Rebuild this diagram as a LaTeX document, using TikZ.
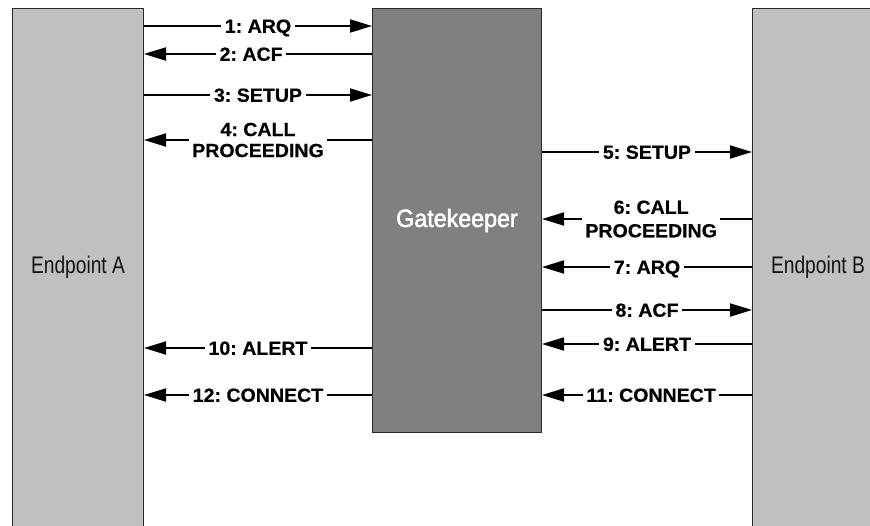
\documentclass[tikz,border=0pt]{standalone}
\usepackage{fontspec}
\setmainfont{Liberation Sans}
\newfontfamily\msgfont{Liberation Sans}[FakeStretch=1.03,FakeBold=0.5]
\newfontfamily\epfont{Liberation Sans}[FakeStretch=0.8]
\newfontfamily\gkfont{Liberation Sans}[FakeStretch=0.93,FakeBold=2]
\usetikzlibrary{arrows.meta}
\definecolor{epgray}{HTML}{C0C0C0}
\definecolor{gkgray}{HTML}{808080}
\definecolor{boxline}{HTML}{2A2A2A}
\frenchspacing
\begin{document}
\begin{tikzpicture}[x=1pt,y=-1pt,
  endpoint/.style={draw=boxline, fill=epgray, line width=1pt,
    minimum width=131pt, minimum height=518pt, anchor=north west,
    inner sep=0pt, text=black!92,
    font=\epfont\fontsize{24}{28}\selectfont},
  keeper/.style={draw=boxline, fill=gkgray, line width=1pt,
    minimum width=169pt, minimum height=424pt, anchor=north west,
    inner sep=0pt, text=white,
    font=\gkfont\fontsize{25}{30}\selectfont},
  msg/.style={line width=1.8pt, -{Triangle[length=22pt,width=13pt]}},
  lbl/.style={fill=white, inner xsep=3.5pt, inner ysep=0pt,
    text height=13.5pt, text depth=0pt,
    font=\msgfont\bfseries\fontsize{19}{21}\selectfont},
  lbltwo/.style={fill=white, inner xsep=3.5pt, inner ysep=1pt, align=center,
    font=\msgfont\bfseries\fontsize{19}{#1}\selectfont},
]
\useasboundingbox (0,0) rectangle (870,525);

% the three parties
\node[endpoint] (A) at (12,8) {Endpoint A};
\node[keeper]   (G) at (372,8) {Gatekeeper};
\node[endpoint] (B) at (752,8) {Endpoint B};

% Endpoint A <-> Gatekeeper
\draw[msg] (A.east |- 0,26) -- node[lbl] {1: ARQ} (G.west |- 0,26);
\draw[msg] (G.west |- 0,54) -- node[lbl, pos=0.53] {2: ACF} (A.east |- 0,54);
\draw[msg] (A.east |- 0,95) -- node[lbl] {3: SETUP} (G.west |- 0,95);
\draw[msg] (G.west |- 0,140) -- node[lbltwo=21] {4: CALL\\PROCEEDING} (A.east |- 0,140);

% Gatekeeper <-> Endpoint B
\draw[msg] (G.east |- 0,152) -- node[lbl] {5: SETUP} (B.west |- 0,152);
\draw[msg] (B.west |- 0,219) -- node[lbltwo=23.5, pos=0.48] {6: CALL\\PROCEEDING} (G.east |- 0,219);
\draw[msg] (B.west |- 0,267) -- node[lbl] {7: ARQ} (G.east |- 0,267);
\draw[msg] (G.east |- 0,310) -- node[lbl] {8: ACF} (B.west |- 0,310);
\draw[msg] (B.west |- 0,344) -- node[lbl] {9: ALERT} (G.east |- 0,344);
\draw[msg] (G.west |- 0,348) -- node[lbl] {10: ALERT} (A.east |- 0,348);
\draw[msg] (B.west |- 0,395) -- node[lbl, pos=0.48] {11: CONNECT} (G.east |- 0,395);
\draw[msg] (G.west |- 0,395) -- node[lbl] {12: CONNECT} (A.east |- 0,395);
\end{tikzpicture}
\end{document}
